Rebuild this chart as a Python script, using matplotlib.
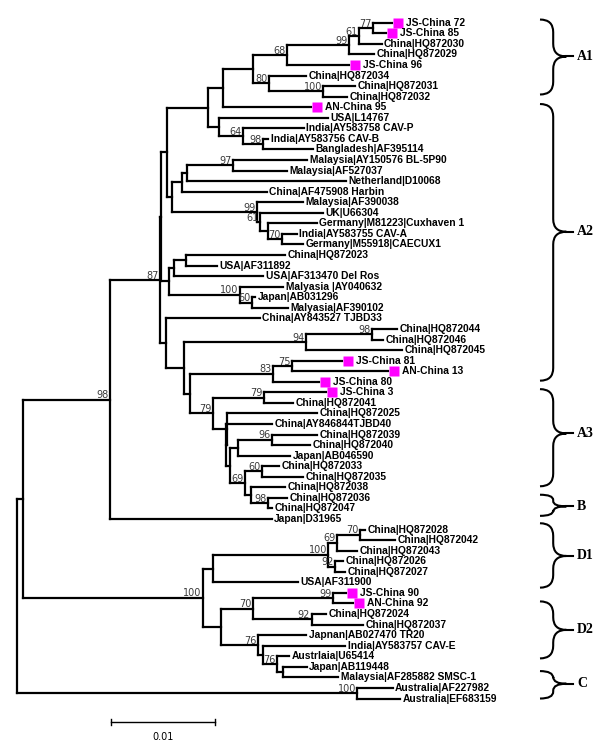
import matplotlib
matplotlib.use("Agg")
import matplotlib.pyplot as plt
from matplotlib.collections import LineCollection
from matplotlib.path import Path
from matplotlib.patches import PathPatch
import matplotlib.transforms as mtransforms

# ---------------- data ----------------
leaf_labels = [
    "JS-China 72", "JS-China 85", "China|HQ872030", "China|HQ872029", "JS-China 96",
    "China|HQ872034", "China|HQ872031", "China|HQ872032", "AN-China 95", "USA|L14767",
    "India|AY583758 CAV-P", "India|AY583756 CAV-B", "Bangladesh|AF395114",
    "Malaysia|AY150576 BL-5P90", "Malaysia|AF527037", "Netherland|D10068",
    "China|AF475908 Harbin", "Malaysia|AF390038", "UK|U66304", "Germany|M81223|Cuxhaven 1",
    "India|AY583755 CAV-A", "Germany|M55918|CAECUX1", "China|HQ872023", "USA|AF311892",
    "USA|AF313470 Del Ros", "Malyasia |AY040632", "Japan|AB031296", "Malyasia|AF390102",
    "China|AY843527 TJBD33", "China|HQ872044", "China|HQ872046", "China|HQ872045",
    "JS-China 81", "AN-China 13", "JS-China 80", "JS-China 3", "China|HQ872041",
    "China|HQ872025", "China|AY846844TJBD40", "China|HQ872039", "China|HQ872040",
    "Japan|AB046590", "China|HQ872033", "China|HQ872035", "China|HQ872038",
    "China|HQ872036", "China|HQ872047", "Japan|D31965", "China|HQ872028",
    "China|HQ872042", "China|HQ872043", "China|HQ872026", "China|HQ872027",
    "USA|AF311900", "JS-China 90", "AN-China 92", "China|HQ872024", "China|HQ872037",
    "Japnan|AB027470 TR20", "India|AY583757 CAV-E", "Austrlaia|U65414", "Japan|AB119448",
    "Malaysia|AF285882 SMSC-1", "Australia|AF227982", "Australia|EF683159",
]
# distance of each tip from the root (substitutions/site)
leaf_dist = [
    0.03606, 0.03548, 0.03509, 0.03435, 0.03198,
    0.02782, 0.03253, 0.03173, 0.02830, 0.02990,
    0.02762, 0.02419, 0.02852,
    0.02794, 0.02602, 0.03163,
    0.02404, 0.02756, 0.02942, 0.02885,
    0.02692, 0.02756, 0.02580, 0.01926,
    0.02371, 0.02563, 0.02291, 0.02611,
    0.02339, 0.03654, 0.03519, 0.03702,
    0.03125, 0.03573, 0.02909, 0.02974, 0.02659,
    0.02885, 0.02452, 0.02885, 0.02820,
    0.02628, 0.02525, 0.02756, 0.02580,
    0.02602, 0.02452, 0.02452, 0.03349,
    0.03637, 0.03269, 0.03140, 0.03157,
    0.02708, 0.03163, 0.03236, 0.02974, 0.03327,
    0.02782, 0.03157, 0.02621, 0.02788,
    0.03092, 0.03615, 0.03685,
]
marked_leaves = ["JS-China 72", "JS-China 85", "JS-China 96", "AN-China 95", "JS-China 81",
                 "AN-China 13", "JS-China 80", "JS-China 3", "JS-China 90", "AN-China 92"]

node_names = [
    "root", "nABD", "n98", "n87", "n87a", "nA12", "n207", "n222", "n253", "n68", "n99a",
    "n61a", "n77", "n80", "n100a", "n219", "n64", "n98b", "n171", "n181", "n186", "n97",
    "n99c", "n61c", "nX", "n70", "n169", "n174", "n185", "n100b", "n60b", "n166", "n184",
    "n94", "n98c", "n190", "n83", "n75", "nA3", "n79b", "nNa", "nNb", "nNc", "n238", "n96",
    "n69", "n60", "n250", "n98d", "n100D", "nD1", "n100D1", "n69D", "n70D", "n92D", "nD2",
    "n70D2", "n99D", "n92D2", "n76a", "nc", "n76b", "na", "nC",
]
node_dist = [
    0.0, 0.00058, 0.00897, 0.01378, 0.01385, 0.01442, 0.01836, 0.01981, 0.02275, 0.02602, 0.03195,
    0.03294, 0.03429, 0.02423, 0.02948, 0.01948, 0.02179, 0.02371, 0.01490, 0.01586, 0.01635, 0.02083,
    0.02308, 0.02339, 0.02419, 0.02548, 0.01467, 0.01512, 0.01625, 0.02147, 0.02260, 0.01436, 0.01611,
    0.02782, 0.03413, 0.01666, 0.02461, 0.02644, 0.01885, 0.02378, 0.02022, 0.02008, 0.02051, 0.02131, 0.02452,
    0.02195, 0.02356, 0.02250, 0.02419, 0.01788, 0.01890, 0.02996, 0.03077, 0.03301, 0.03060, 0.01961,
    0.02275, 0.03044, 0.02836, 0.02323, 0.02365, 0.02500, 0.02558, 0.03275,
]
node_children = [
    ["nABD", "nC"], ["n98", "n100D"], ["n87", "Japan|D31965"], ["n87a", "n166"], ["nA12", "n169"],
    ["n207", "n171"], ["n222", "n219"], ["n253", "AN-China 95"], ["n68", "n80"],
    ["n99a", "JS-China 96"], ["n61a", "China|HQ872029"], ["n77", "China|HQ872030"],
    ["JS-China 72", "JS-China 85"], ["China|HQ872034", "n100a"], ["China|HQ872031", "China|HQ872032"],
    ["USA|L14767", "n64"], ["India|AY583758 CAV-P", "n98b"], ["India|AY583756 CAV-B", "Bangladesh|AF395114"],
    ["n181", "n99c"], ["n186", "China|AF475908 Harbin"], ["n97", "Netherland|D10068"],
    ["Malaysia|AY150576 BL-5P90", "Malaysia|AF527037"], ["Malaysia|AF390038", "n61c"],
    ["UK|U66304", "nX"], ["Germany|M81223|Cuxhaven 1", "n70"],
    ["India|AY583755 CAV-A", "Germany|M55918|CAECUX1"], ["n174", "n100b"],
    ["n185", "USA|AF313470 Del Ros"], ["China|HQ872023", "USA|AF311892"],
    ["Malyasia |AY040632", "n60b"], ["Japan|AB031296", "Malyasia|AF390102"],
    ["China|AY843527 TJBD33", "n184"], ["n94", "n190"], ["n98c", "China|HQ872045"],
    ["China|HQ872044", "China|HQ872046"], ["n83", "nA3"], ["n75", "JS-China 80"],
    ["JS-China 81", "AN-China 13"], ["n79b", "nNa"], ["JS-China 3", "China|HQ872041"],
    ["China|HQ872025", "nNb"], ["China|AY846844TJBD40", "nNc"], ["n238", "n69"],
    ["n96", "Japan|AB046590"], ["China|HQ872039", "China|HQ872040"], ["n60", "n250"],
    ["China|HQ872033", "China|HQ872035"], ["China|HQ872038", "n98d"],
    ["China|HQ872036", "China|HQ872047"], ["nD1", "nD2"], ["n100D1", "USA|AF311900"],
    ["n69D", "n92D"], ["n70D", "China|HQ872043"], ["China|HQ872028", "China|HQ872042"],
    ["China|HQ872026", "China|HQ872027"], ["n70D2", "n76a"], ["n99D", "n92D2"],
    ["JS-China 90", "AN-China 92"], ["China|HQ872024", "China|HQ872037"],
    ["Japnan|AB027470 TR20", "nc"], ["India|AY583757 CAV-E", "n76b"], ["Austrlaia|U65414", "na"],
    ["Japan|AB119448", "Malaysia|AF285882 SMSC-1"], ["Australia|AF227982", "Australia|EF683159"],
]
node_support = [
    None, None, 98, 87, None, None, None, None, None, 68, 99,
    61, 77, 80, 100, None, 64, 98, None, None, None, 97,
    99, 61, None, 70, None, None, None, 100, 60, None, None,
    94, 98, None, 83, 75, 79, 79, None, None, None, None, 96,
    69, 60, None, 98, 100, None, 100, 69, 70, 92, None,
    70, 99, 92, 76, None, 76, None, 100,
]

# clade brackets (in leaf-row units): name, top, bottom, tip
clade_names = ["A1", "A2", "A3", "B", "D1", "D2", "C"]
clade_top = [-0.3, 7.7, 34.7, 44.7, 47.4, 54.8, 61.4]
clade_bottom = [6.8, 33.9, 43.9, 46.7, 53.5, 60.2, 64.0]
clade_tip = [3.2, 19.8, 38.9, 45.8, 50.5, 57.5, 62.6]

scale_value = 0.01
scale_label = "0.01"

# ---------------- layout ----------------
pos = {}
for i, (lab, d) in enumerate(zip(leaf_labels, leaf_dist)):
    pos[lab] = (d, float(i))
node_x = dict(zip(node_names, node_dist))
kids = dict(zip(node_names, node_children))


def node_y(name):
    if name in pos:
        return pos[name][1]
    ys = [node_y(c) for c in kids[name]]
    y = (ys[0] + ys[-1]) / 2.0
    pos[name] = (node_x[name], y)
    return y


node_y("root")

fig = plt.figure(figsize=(6.0, 7.45), dpi=100)
ax = fig.add_axes([0, 0, 1, 1])
ax.set_xlim(-0.001606, 0.05609)
ax.set_ylim(68.4, -2.15)
ax.axis("off")

segs = []
for name in node_names:
    x, y = pos[name]
    cy = [pos[c][1] for c in kids[name]]
    segs.append([(x, min(cy)), (x, max(cy))])
    for c in kids[name]:
        cx, cyy = pos[c]
        segs.append([(x, cyy), (cx, cyy)])
lc = LineCollection(segs, colors="black", linewidths=1.6, capstyle="projecting")
ax.add_collection(lc)

lab_tr = mtransforms.offset_copy(ax.transData, fig=fig, x=1.8, y=0, units="points")
sq_tr = mtransforms.offset_copy(ax.transData, fig=fig, x=4.3, y=0, units="points")
lab2_tr = mtransforms.offset_copy(ax.transData, fig=fig, x=10.0, y=0, units="points")
for lab, d, i in zip(leaf_labels, leaf_dist, range(len(leaf_labels))):
    if lab in marked_leaves:
        ax.plot([d], [i], marker="s", markersize=6.8, color="#ff00ff", mec="none",
                transform=sq_tr, clip_on=False)
        tr = lab2_tr
    else:
        tr = lab_tr
    ax.text(d, i, lab, transform=tr, ha="left", va="center", fontsize=7.4,
            fontweight="bold", family="Liberation Sans", color="black")

sup_tr = mtransforms.offset_copy(ax.transData, fig=fig, x=-1.0, y=1.0, units="points")
for name, s in zip(node_names, node_support):
    if s is None:
        continue
    x, y = pos[name]
    ax.text(x, y, str(s), transform=sup_tr, ha="right", va="baseline", fontsize=7.0,
            family="DejaVu Sans", color="#3a3a3a")

# clade braces: x in axes fraction, y in data
btr = mtransforms.blended_transform_factory(ax.transAxes, ax.transData)
x_left, x_body, x_tip, x_end, x_text = 0.900, 0.922, 0.944, 0.955, 0.962
for nm, t, b, m in zip(clade_names, clade_top, clade_bottom, clade_tip):
    r = min(1.2, (b - t) / 4.0)
    verts = [
        (x_left, t), (x_body, t), (x_body, t + r),
        (x_body, m - r),
        (x_body, m), (x_tip, m),
        (x_body, m), (x_body, m + r),
        (x_body, b - r),
        (x_body, b), (x_left, b),
    ]
    codes = [Path.MOVETO, Path.CURVE3, Path.CURVE3, Path.LINETO, Path.CURVE3, Path.CURVE3,
             Path.CURVE3, Path.CURVE3, Path.LINETO, Path.CURVE3, Path.CURVE3]
    ax.add_patch(PathPatch(Path(verts, codes), facecolor="none", edgecolor="black",
                           lw=1.5, transform=btr, clip_on=False))
    ax.plot([x_tip, x_end], [m, m], color="black", lw=1.5, transform=btr, clip_on=False)
    ax.text(x_text, m, nm, transform=btr, ha="left", va="center", fontsize=10,
            fontweight="bold", family="Liberation Serif")

# scale bar
bar_x0 = 0.00907
bar_y = 66.2
ax.plot([bar_x0, bar_x0 + scale_value], [bar_y, bar_y], color="black", lw=1.0)
for xx in (bar_x0, bar_x0 + scale_value):
    ax.plot([xx, xx], [bar_y - 0.3, bar_y + 0.3], color="black", lw=1.0)
ax.text(bar_x0 + scale_value / 2, bar_y + 1.0, scale_label, ha="center", va="top",
        fontsize=7, family="DejaVu Sans")

fig.savefig("out.png", dpi=100, facecolor="white")
